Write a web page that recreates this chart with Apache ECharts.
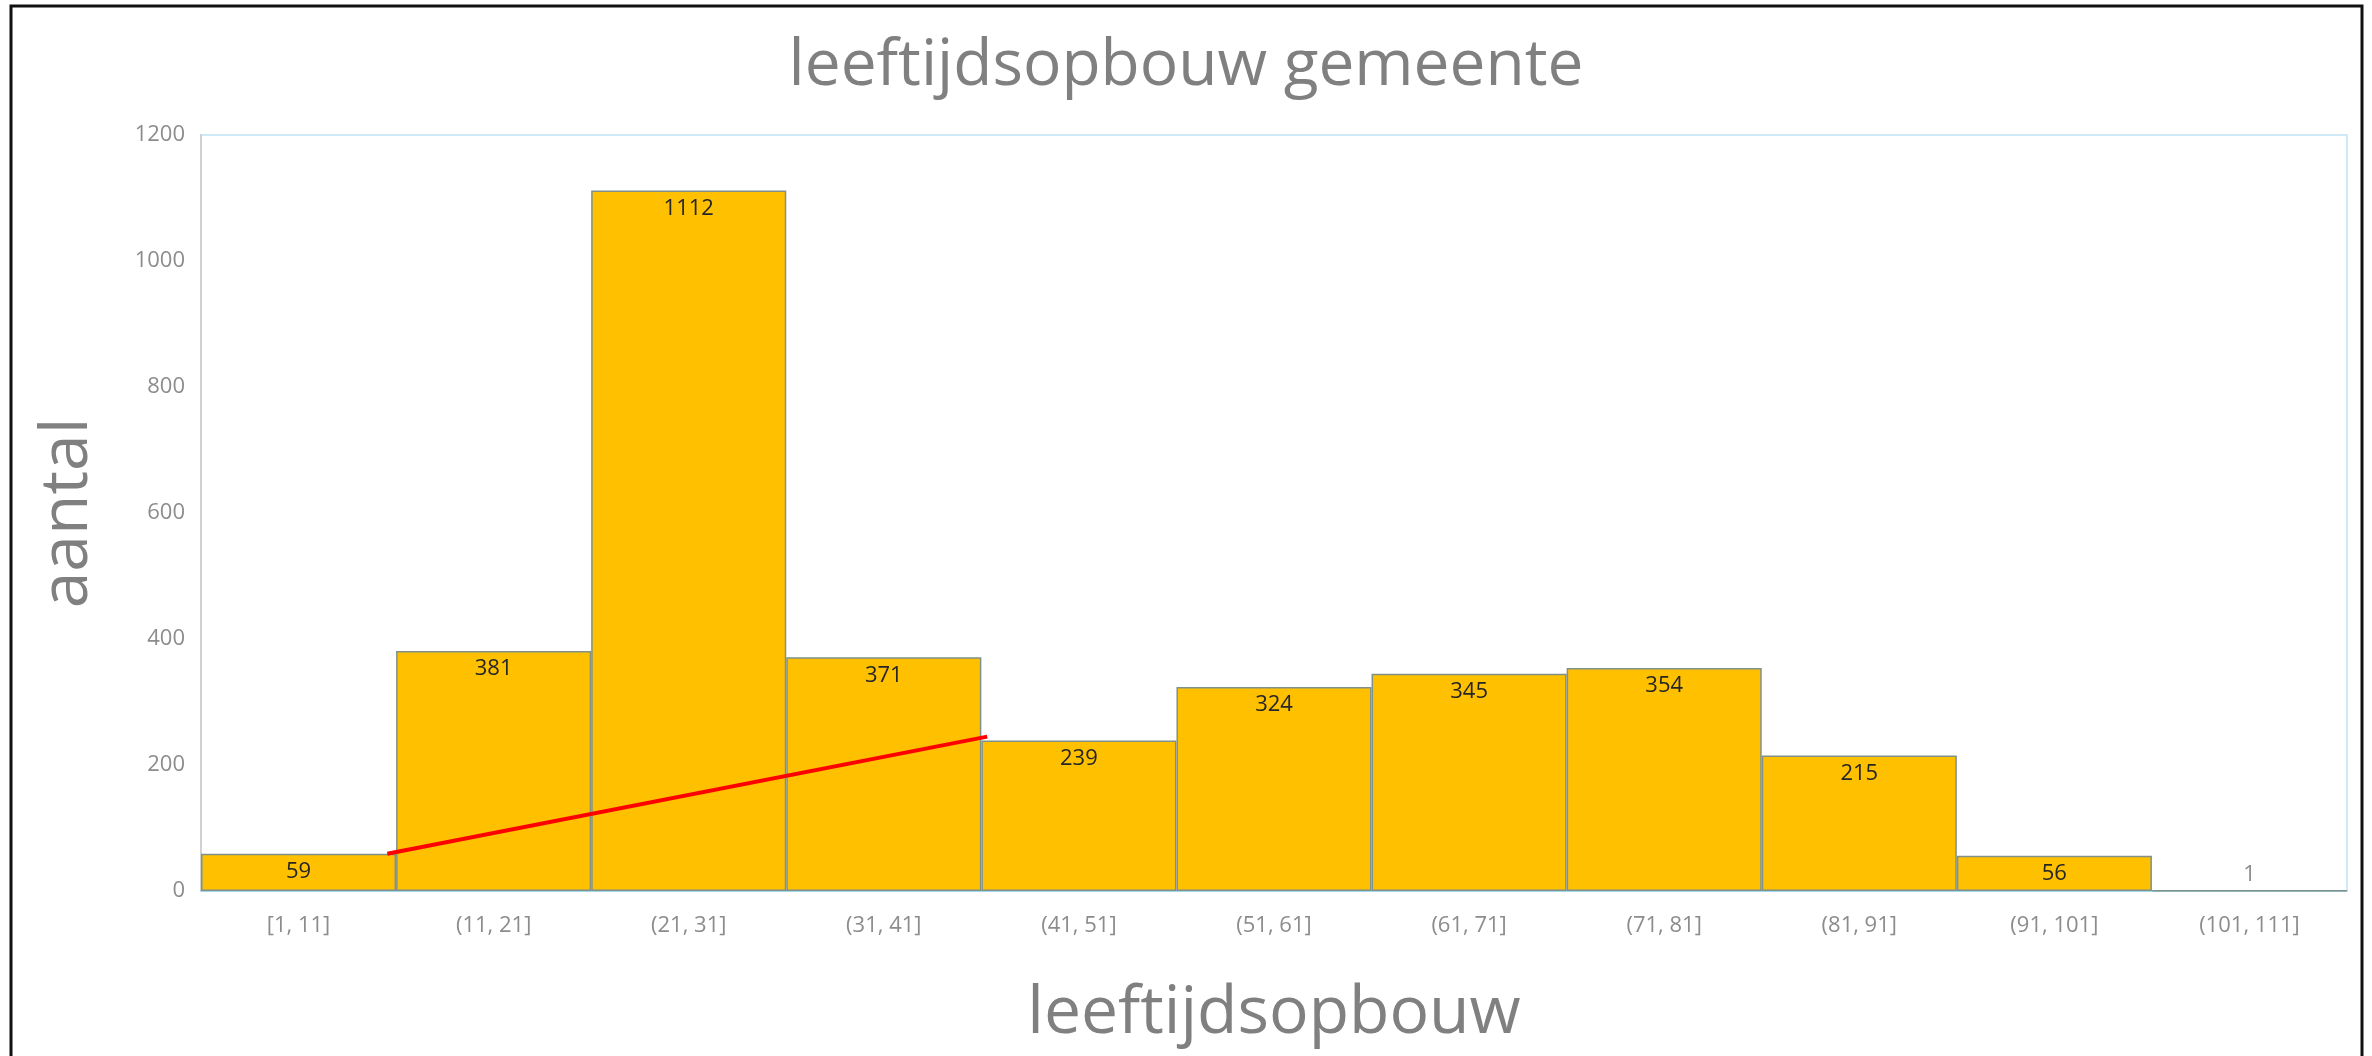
<!DOCTYPE html>
<html>
<head>
<meta charset="utf-8">
<script src="https://cdn.jsdelivr.net/npm/echarts@6/dist/echarts.min.js"></script>
<style>
  html, body { margin: 0; padding: 0; background: #fff; }
  #chart { width: 2372px; height: 1056px; }
</style>
</head>
<body>
<div id="chart"></div>
<script>
// leeftijdsklassen
var categories = ['[1, 11]', '(11, 21]', '(21, 31]', '(31, 41]', '(41, 51]', '(51, 61]', '(61, 71]', '(71, 81]', '(81, 91]', '(91, 101]', '(101, 111]'];
var aantal = [59, 381, 1112, 371, 239, 324, 345, 354, 215, 56, 1];
// rode lijn (positie op de klassen-as, waarde)
var lijnX = [0.955, 4.03];
var lijnY = [59, 245];

var myChart = echarts.init(document.getElementById('chart'));

var barData = aantal.map(function (v) {
  if (v < 5) {
    return { value: v, label: { color: '#8c8c8c', position: 'top', distance: 4 } };
  }
  return v;
});

var lijnData = [];
for (var i = 0; i < lijnX.length; i++) {
  lijnData.push([lijnX[i], lijnY[i]]);
}

var titleFont = '"Liberation Sans Narrow", "Open Sans", sans-serif';
var tickFont = '"Open Sans", "Noto Sans", sans-serif';

var option = {
  animation: false,
  backgroundColor: '#fff',
  title: {
    text: 'leeftijdsopbouw gemeente',
    left: 'center',
    top: 30,
    textStyle: {
      color: '#808080',
      fontFamily: titleFont,
      fontWeight: 'normal',
      fontSize: 64
    }
  },
  graphic: [{
    type: 'rect',
    shape: { x: 11, y: 6, width: 2351, height: 1070 },
    style: { fill: 'none', stroke: '#111', lineWidth: 3 },
    silent: true
  }],
  grid: {
    left: 201,
    right: 25,
    top: 135,
    bottom: 165,
    show: true,
    borderColor: '#cfe9f7',
    borderWidth: 2
  },
  xAxis: [{
    type: 'category',
    data: categories,
    name: 'leeftijdsopbouw',
    nameLocation: 'middle',
    nameGap: 90,
    nameTextStyle: {
      color: '#808080',
      fontFamily: titleFont,
      fontSize: 66
    },
    axisLine: { lineStyle: { color: '#a6d6ef', width: 2 } },
    axisTick: { show: false },
    axisLabel: {
      color: '#8c8c8c',
      fontFamily: tickFont,
      fontSize: 22,
      margin: 24
    }
  }, {
    type: 'value',
    min: 0,
    max: 11,
    show: false
  }],
  yAxis: {
    type: 'value',
    min: 0,
    max: 1200,
    interval: 200,
    name: 'aantal',
    nameLocation: 'middle',
    nameRotate: 90,
    nameGap: 100,
    nameTextStyle: {
      color: '#808080',
      fontFamily: titleFont,
      fontSize: 66
    },
    axisLine: { show: true, lineStyle: { color: '#d0d0d0', width: 2 } },
    axisTick: { show: false },
    splitLine: { show: false },
    axisLabel: {
      color: '#8c8c8c',
      fontFamily: tickFont,
      fontSize: 22,
      margin: 16,
      formatter: function (v) { return String(v); }
    }
  },
  series: [{
    type: 'bar',
    name: 'aantal',
    data: barData,
    barCategoryGap: 0,
    itemStyle: {
      color: '#ffc000',
      borderColor: '#7f9189',
      borderWidth: 1.5
    },
    label: {
      show: true,
      position: 'insideTop',
      distance: 7,
      color: '#262626',
      fontFamily: tickFont,
      fontSize: 22
    },
    z: 2
  }, {
    type: 'line',
    xAxisIndex: 1,
    data: lijnData,
    symbol: 'none',
    lineStyle: { color: '#ff0000', width: 4 },
    z: 5
  }]
};

myChart.setOption(option);
</script>
</body>
</html>
